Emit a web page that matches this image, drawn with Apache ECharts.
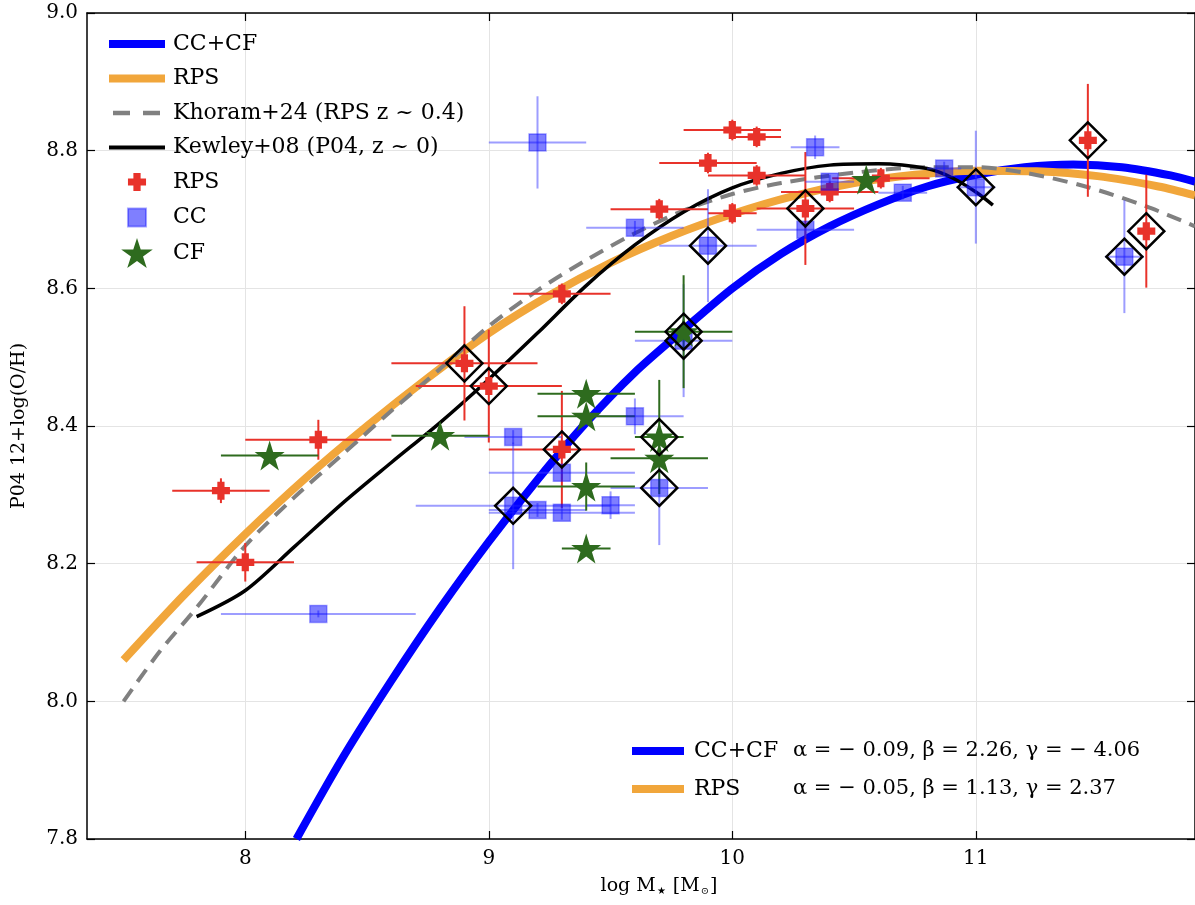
<!DOCTYPE html>
<html><head><meta charset="utf-8">
<script src="https://cdn.jsdelivr.net/npm/echarts@6/dist/echarts.min.js"></script>
<style>html,body{margin:0;padding:0;background:#fff}#c{width:1195px;height:905px}</style>
</head><body><div id="c"></div>
<script>
// ---------- data ----------
const xTicks = [8, 9, 10, 11];

// RPS galaxies
const rpsX    = [7.90, 8.00, 8.30, 8.90, 9.00, 9.30, 9.30, 9.70, 10.00, 10.10, 9.90, 10.10, 10.00, 10.30, 10.40, 10.61, 11.46, 11.70];
const rpsY    = [8.306, 8.202, 8.380, 8.491, 8.458, 8.366, 8.592, 8.715, 8.830, 8.820, 8.782, 8.764, 8.709, 8.716, 8.740, 8.760, 8.815, 8.683];
const rpsXerr = [0.2, 0.2, 0.3, 0.3, 0.3, 0.3, 0.2, 0.2, 0.2, 0.1, 0.2, 0.2, 0.1, 0.2, 0.2, 0.2, 0.02, 0.02];
const rpsYerr = [0.018, 0.028, 0.029, 0.083, 0.082, 0.085, 0.015, 0.015, 0.015, 0.015, 0.015, 0.015, 0.015, 0.082, 0.015, 0.015, 0.082, 0.082];
const rpsMarked = [0,0,0,1,1,1,0,0,0,0,0,0,0,1,0,0,1,1];

// CC galaxies
const ccX    = [8.30, 9.20, 9.10, 9.10, 9.20, 9.30, 9.30, 9.50, 9.60, 9.70, 9.80, 9.90, 9.60, 10.34, 10.40, 10.30, 10.70, 10.87, 11.00, 11.61];
const ccY    = [8.127, 8.812, 8.384, 8.284, 8.278, 8.274, 8.332, 8.285, 8.414, 8.310, 8.524, 8.662, 8.688, 8.805, 8.755, 8.685, 8.739, 8.774, 8.747, 8.646];
const ccXerr = [0.4, 0.2, 0.2, 0.4, 0.2, 0.3, 0.3, 0.1, 0.2, 0.2, 0.2, 0.2, 0.2, 0.1, 0.1, 0.2, 0.1, 0.07, 0.08, 0.08];
const ccYerr = [0.005, 0.067, 0.01, 0.092, 0.01, 0.01, 0.01, 0.02, 0.026, 0.083, 0.082, 0.082, 0.01, 0.017, 0.01, 0.01, 0.01, 0.01, 0.082, 0.082];
const ccMarked = [0,0,0,1,0,0,0,0,0,1,1,1,0,0,0,0,0,0,1,1];

// CF galaxies
const cfX    = [8.10, 8.80, 9.40, 9.40, 9.40, 9.40, 9.70, 9.70, 9.80, 10.55];
const cfY    = [8.357, 8.386, 8.447, 8.414, 8.312, 8.222, 8.384, 8.353, 8.537, 8.758];
const cfXerr = [0.2, 0.2, 0.2, 0.2, 0.2, 0.1, 0.1, 0.2, 0.2, 0];
const cfYerr = [0, 0, 0, 0, 0.035, 0, 0.083, 0, 0.082, 0];
const cfMarked = [0,0,0,0,0,0,1,0,1,0];

// fitted / literature relations
const ccCfFitX = [8.21, 8.4, 8.6, 8.8, 9.0, 9.2, 9.4, 9.6, 9.8, 10.0, 10.2, 10.4, 10.6, 10.8, 11.0, 11.2, 11.4, 11.6, 11.8, 11.9];
const ccCfFitY = [7.800, 7.918, 8.030, 8.135, 8.232, 8.322, 8.405, 8.478, 8.540, 8.600, 8.650, 8.690, 8.722, 8.748, 8.765, 8.776, 8.780, 8.776, 8.764, 8.755];

const rpsFitX = [7.5, 7.75, 8.0, 8.25, 8.5, 8.75, 9.0, 9.25, 9.5, 9.75, 10.0, 10.25, 10.5, 10.75, 11.0, 11.25, 11.5, 11.75, 11.9];
const rpsFitY = [8.060, 8.155, 8.243, 8.325, 8.400, 8.470, 8.535, 8.590, 8.637, 8.676, 8.708, 8.734, 8.753, 8.765, 8.771, 8.770, 8.763, 8.748, 8.735];

const khoramX = [7.5, 7.65, 7.8, 8.0, 8.2, 8.4, 8.6, 8.8, 9.0, 9.2, 9.4, 9.6, 9.8, 10.0, 10.2, 10.5, 10.8, 11.0, 11.2, 11.45, 11.7, 11.9];
const khoramY = [8.000, 8.073, 8.136, 8.226, 8.296, 8.359, 8.422, 8.483, 8.545, 8.597, 8.641, 8.680, 8.713, 8.737, 8.753, 8.768, 8.776, 8.776, 8.768, 8.748, 8.719, 8.690];

const kewleyX = [7.8, 8.0, 8.2, 8.4, 8.6, 8.8, 9.0, 9.2, 9.4, 9.6, 9.8, 10.0, 10.2, 10.4, 10.6, 10.8, 10.9, 11.0, 11.07];
const kewleyY = [8.123, 8.161, 8.224, 8.288, 8.347, 8.405, 8.468, 8.535, 8.604, 8.663, 8.711, 8.746, 8.767, 8.779, 8.781, 8.774, 8.761, 8.740, 8.721];

// ---------- styling ----------
const FONT = "'DejaVu Serif', 'Liberation Serif', serif";
const RED = '#e8322a', BLUE_A = 'rgba(0,0,255,0.5)', BLUE_E = 'rgba(60,60,255,0.5)', GREEN = '#2e6b1e', ORANGE = '#f1a63b';
const PLUS = 'path://M-2,-5L2,-5L2,-2L5,-2L5,2L2,2L2,5L-2,5L-2,2L-5,2L-5,-2L-2,-2Z';
const STAR = 'path://M0,-1L0.2245,-0.309L0.951,-0.309L0.3633,0.118L0.588,0.809L0,0.382L-0.588,0.809L-0.3633,0.118L-0.951,-0.309L-0.2245,-0.309Z';
// legend icons (padded so the drawn part keeps the intended size in the legend box)
const PLUS_L = 'path://M-8.3,-8.3M8.3,8.3M-2,-5L2,-5L2,-2L5,-2L5,2L2,2L2,5L-2,5L-2,2L-5,2L-5,-2L-2,-2Z';
const SQ_L = 'path://M-8.3,-8.3M8.3,8.3M-5,-5L5,-5L5,5L-5,5Z';
const LINE8_L = 'path://M0,-15M56,15M0,-4H56V4H0Z';
const LINE4_L = 'path://M0,-15M56,15M0,-2H56V2H0Z';
const DASH_L = 'path://M0,-15M56,15M4,-2.2H21V2.2H4ZM34,-2.2H51V2.2H34Z';
const LINE8_S = 'path://M0,-7M52,7M0,-4H52V4H0Z';

const zip = (xs, ys) => xs.map((x, i) => [x, ys[i]]);
const errRows = (xs, ys, xe, ye) => xs.map((x, i) => [x, ys[i], xe[i], ye[i]]);

function errRender(color, width) {
  return function (params, api) {
    const x = api.value(0), y = api.value(1), xe = api.value(2), ye = api.value(3);
    const ch = [];
    if (xe > 0) {
      const l = api.coord([x - xe, y]), r = api.coord([x + xe, y]);
      ch.push({ type: 'line', shape: { x1: l[0], y1: l[1], x2: r[0], y2: r[1] }, style: { stroke: color, lineWidth: width } });
    }
    if (ye > 0) {
      const t = api.coord([x, y + ye]), b = api.coord([x, y - ye]);
      ch.push({ type: 'line', shape: { x1: t[0], y1: t[1], x2: b[0], y2: b[1] }, style: { stroke: color, lineWidth: width } });
    }
    return { type: 'group', children: ch };
  };
}
function errSeries(xs, ys, xe, ye, color) {
  return { type: 'custom', renderItem: errRender(color, 2), data: errRows(xs, ys, xe, ye),
           encode: { x: 0, y: 1 }, clip: true, z: 3, silent: true };
}
const marked = [];
[[rpsX, rpsY, rpsMarked], [ccX, ccY, ccMarked], [cfX, cfY, cfMarked]].forEach(([xs, ys, m]) => {
  xs.forEach((x, i) => { if (m[i]) marked.push([x, ys[i]]); });
});

const legendNames = {
  'CC+CF fit': 'CC+CF', 'RPS fit': 'RPS',
  'Khoram+24 (RPS z ~ 0.4)': 'Khoram+24 (RPS z ~ 0.4)',
  'Kewley+08 (P04, z ~ 0)': 'Kewley+08 (P04, z ~ 0)',
  'RPS': 'RPS', 'CC': 'CC', 'CF': 'CF'
};
const fitParams = {
  'CC+CF fit': ['CC+CF', 'α = − 0.09, β = 2.26, γ = − 4.06'],
  'RPS fit': ['RPS', 'α = − 0.05, β = 1.13, γ = 2.37']
};

const axisLineStyle = { color: '#000', width: 1.5 };
const tickStyle = { show: true, inside: true, length: 8, lineStyle: { color: '#000', width: 1.2 } };

const chart = echarts.init(document.getElementById('c'), null, { renderer: 'canvas' });
chart.setOption({
  animation: false,
  backgroundColor: '#fff',
  grid: { left: 87, right: 0, top: 13, bottom: 66, containLabel: false },
  xAxis: [{
    type: 'value', min: 7.35, max: 11.9, position: 'bottom',
    name: 'log M{s|★} [M{s|⊙}]', nameLocation: 'middle', nameGap: 38,
    nameTextStyle: { fontFamily: FONT, fontSize: 19, color: '#000', padding: [0, 0, 0, 36],
      rich: { s: { fontFamily: FONT, fontSize: 10, color: '#000', padding: [9, 1, 0, 1] } } },
    axisLine: { show: true, lineStyle: axisLineStyle },
    axisTick: Object.assign({ customValues: xTicks }, tickStyle),
    axisLabel: { customValues: xTicks, fontFamily: FONT, fontSize: 20, color: '#000', margin: 10 },
    splitLine: { show: true, lineStyle: { color: '#e4e4e4', width: 1 } }
  }, {
    type: 'value', min: 7.35, max: 11.9, position: 'top',
    axisLine: { show: true, lineStyle: axisLineStyle },
    axisTick: Object.assign({ customValues: xTicks }, tickStyle),
    axisLabel: { show: false }, splitLine: { show: false }
  }],
  yAxis: [{
    type: 'value', min: 7.8, max: 9.0, interval: 0.2, position: 'left',
    name: 'P04 12+log(O/H)', nameLocation: 'middle', nameGap: 58,
    nameTextStyle: { fontFamily: FONT, fontSize: 19, color: '#000' },
    axisLine: { show: true, lineStyle: axisLineStyle },
    axisTick: tickStyle,
    axisLabel: { fontFamily: FONT, fontSize: 20, color: '#000', margin: 9, formatter: v => v.toFixed(1) },
    splitLine: { show: true, lineStyle: { color: '#e4e4e4', width: 1 } }
  }, {
    type: 'value', min: 7.8, max: 9.0, interval: 0.2, position: 'right',
    axisLine: { show: true, lineStyle: axisLineStyle },
    axisTick: tickStyle, axisLabel: { show: false }, splitLine: { show: false }
  }],
  legend: [{
    orient: 'vertical', left: 104, top: 24, itemWidth: 56, itemHeight: 30, itemGap: 4.5,
    data: [
      { name: 'CC+CF fit', icon: LINE8_L }, { name: 'RPS fit', icon: LINE8_L },
      { name: 'Khoram+24 (RPS z ~ 0.4)', icon: DASH_L }, { name: 'Kewley+08 (P04, z ~ 0)', icon: LINE4_L },
      { name: 'RPS', icon: PLUS_L }, { name: 'CC', icon: SQ_L }, { name: 'CF', icon: STAR }
    ],
    formatter: n => '{t|' + legendNames[n] + '}',
    textStyle: { fontFamily: FONT, fontSize: 22, color: '#000',
      rich: { t: { fontFamily: FONT, fontSize: 22, color: '#000', padding: [0, 0, 0, 3] } } },
    selectedMode: false
  }, {
    orient: 'vertical', left: 627, top: 735, itemWidth: 52, itemHeight: 14, itemGap: 16,
    data: [{ name: 'CC+CF fit', icon: LINE8_S }, { name: 'RPS fit', icon: LINE8_S }],
    formatter: n => '{n|' + fitParams[n][0] + '}{p|' + fitParams[n][1] + '}',
    textStyle: { fontFamily: FONT, fontSize: 21, color: '#000',
      rich: {
        n: { fontFamily: FONT, fontSize: 22, color: '#000', width: 99, padding: [0, 0, 0, 5] },
        p: { fontFamily: FONT, fontSize: 21, color: '#000' }
      } },
    selectedMode: false
  }],
  series: [
    { name: 'CC+CF fit', type: 'line', data: zip(ccCfFitX, ccCfFitY), showSymbol: false, symbol: 'none', smooth: 0.3,
      lineStyle: { color: '#0000ff', width: 8 }, itemStyle: { color: '#0000ff' }, z: 2, silent: true },
    { name: 'RPS fit', type: 'line', data: zip(rpsFitX, rpsFitY), showSymbol: false, symbol: 'none', smooth: 0.3,
      lineStyle: { color: ORANGE, width: 8 }, itemStyle: { color: ORANGE }, z: 2, silent: true },
    { name: 'Khoram+24 (RPS z ~ 0.4)', type: 'line', data: zip(khoramX, khoramY), showSymbol: false, symbol: 'none', smooth: 0.3,
      lineStyle: { color: '#808080', width: 4, type: [15, 9] }, itemStyle: { color: '#808080' }, z: 2, silent: true },
    { name: 'Kewley+08 (P04, z ~ 0)', type: 'line', data: zip(kewleyX, kewleyY), showSymbol: false, symbol: 'none', smooth: 0.3,
      lineStyle: { color: '#000', width: 3.5 }, itemStyle: { color: '#000' }, z: 2, silent: true },
    errSeries(rpsX, rpsY, rpsXerr, rpsYerr, RED),
    errSeries(ccX, ccY, ccXerr, ccYerr, BLUE_E),
    errSeries(cfX, cfY, cfXerr, cfYerr, GREEN),
    { name: 'RPS', type: 'scatter', data: zip(rpsX, rpsY), symbol: PLUS, symbolSize: 18,
      itemStyle: { color: RED, opacity: 1 }, z: 4, silent: true },
    { name: 'CC', type: 'scatter', data: zip(ccX, ccY), symbol: 'rect', symbolSize: 17,
      itemStyle: { color: BLUE_A, borderColor: 'rgba(0,0,255,0.35)', borderWidth: 1.5, opacity: 1 }, z: 4, silent: true },
    { name: 'CF', type: 'scatter', data: zip(cfX, cfY), symbol: STAR, symbolSize: 30,
      itemStyle: { color: GREEN, opacity: 1 }, z: 4, silent: true },
    { name: 'marked', type: 'scatter', data: marked, symbol: 'diamond', symbolSize: 36,
      itemStyle: { color: 'rgba(0,0,0,0)', borderColor: '#000', borderWidth: 2.5, opacity: 1 }, z: 5, silent: true }
  ]
});
</script>
</body></html>
